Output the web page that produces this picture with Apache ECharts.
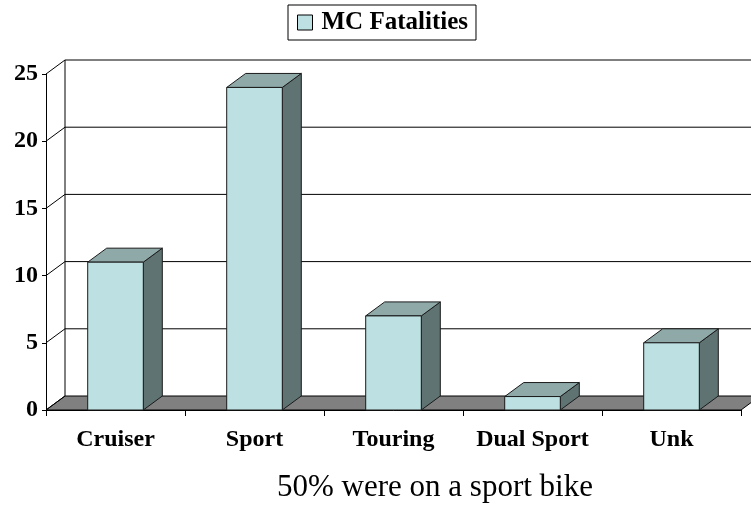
<!DOCTYPE html>
<html>
<head>
<meta charset="utf-8">
<script src="https://cdn.jsdelivr.net/npm/echarts@6/dist/echarts.min.js"></script>
<style>
  html, body { margin: 0; padding: 0; background: #fff; }
  #chart { width: 751px; height: 508px; }
</style>
</head>
<body>
<div id="chart"></div>
<script>
// chart data
var categories = ['Cruiser', 'Sport', 'Touring', 'Dual Sport', 'Unk'];
var fatalities = [11, 24, 7, 1, 5];
var yTicks = [0, 5, 10, 15, 20, 25];

// fake 3d depth (pixels)
var DX = 19, DY = -14;
var serif = '"Liberation Serif", "DejaVu Serif", serif';

var myChart = echarts.init(document.getElementById('chart'));

function renderFrame(params, api) {
  var band = api.size([1, 0])[0];
  var left = api.coord([0, 0])[0] - band / 2;
  var right = api.coord([categories.length - 1, 0])[0] + band / 2;
  var y0 = api.coord([0, 0])[1];
  var yTop = api.coord([0, yTicks[yTicks.length - 1]])[1];
  var W = api.getWidth();
  var children = [];
  // floor
  children.push({
    type: 'polygon',
    shape: { points: [[left, y0], [right, y0], [right + DX, y0 + DY], [left + DX, y0 + DY]] },
    style: { fill: '#808080', stroke: '#000', lineWidth: 1 }
  });
  yTicks.forEach(function (t) {
    var y = api.coord([0, t])[1];
    // side wall line
    children.push({
      type: 'line',
      shape: { x1: left, y1: y, x2: left + DX, y2: y + DY },
      style: { stroke: '#000', lineWidth: 1 }
    });
    if (t > 0) {
      children.push({
        type: 'line',
        shape: { x1: left + DX, y1: y + DY, x2: W, y2: y + DY },
        style: { stroke: '#000', lineWidth: 1 }
      });
    }
  });
  // back wall corner
  children.push({
    type: 'line',
    shape: { x1: left + DX, y1: y0 + DY, x2: left + DX, y2: yTop + DY },
    style: { stroke: '#000', lineWidth: 1 }
  });
  return { type: 'group', children: children };
}

function renderBar(params, api) {
  var i = api.value(0);
  var v = api.value(1);
  var base = api.coord([i, 0]);
  var top = api.coord([i, v]);
  var band = api.size([1, 0])[0];
  var w = band * 0.4;
  var x0 = base[0] - w / 2, x1 = base[0] + w / 2;
  var yb = base[1], yt = top[1];
  var edge = { stroke: '#1a1a1a', lineWidth: 1 };
  return {
    type: 'group',
    children: [
      {
        type: 'polygon',
        shape: { points: [[x1, yt], [x1, yb], [x1 + DX, yb + DY], [x1 + DX, yt + DY]] },
        style: Object.assign({ fill: '#5f7373' }, edge)
      },
      {
        type: 'polygon',
        shape: { points: [[x0, yt], [x1, yt], [x1 + DX, yt + DY], [x0 + DX, yt + DY]] },
        style: Object.assign({ fill: '#8fa9a9' }, edge)
      },
      {
        type: 'rect',
        shape: { x: x0, y: yt, width: w, height: yb - yt },
        style: Object.assign({ fill: '#bde0e2' }, edge)
      }
    ]
  };
}

var option = {
  animation: false,
  backgroundColor: '#fff',
  title: {
    text: '50% were on a sport bike',
    left: 272,
    top: 467,
    textStyle: { fontFamily: serif, fontWeight: 'normal', fontSize: 31, color: '#000' }
  },
  legend: {
    data: ['MC Fatalities'],
    left: 288,
    top: 5,
    padding: [5, 8, 5, 9],
    borderColor: '#000',
    borderWidth: 1,
    backgroundColor: '#fff',
    icon: 'rect',
    itemWidth: 15,
    itemHeight: 15,
    itemStyle: { color: '#bde0e2', borderColor: '#000', borderWidth: 1 },
    textStyle: { fontFamily: serif, fontWeight: 'bold', fontSize: 25, color: '#000', padding: [0, 0, 0, 4] }
  },
  grid: { left: 46, right: 10, top: 74, bottom: 98 },
  xAxis: {
    type: 'category',
    data: categories,
    axisLine: { show: true, lineStyle: { color: '#000' } },
    axisTick: { show: true, length: 6, lineStyle: { color: '#000' } },
    axisLabel: { interval: 0, margin: 18, fontFamily: serif, fontWeight: 'bold', fontSize: 24, color: '#000' },
    splitLine: { show: false }
  },
  yAxis: {
    type: 'value',
    min: 0,
    max: 25,
    interval: 5,
    axisLine: { show: true, lineStyle: { color: '#000' } },
    axisTick: { show: true, length: 4, lineStyle: { color: '#000' } },
    axisLabel: { margin: 8, fontFamily: serif, fontWeight: 'bold', fontSize: 24, color: '#000' },
    splitLine: { show: false }
  },
  series: [
    {
      name: 'frame',
      type: 'custom',
      silent: true,
      clip: false,
      z: 1,
      renderItem: renderFrame,
      data: [[0, 0]]
    },
    {
      name: 'MC Fatalities',
      type: 'custom',
      clip: false,
      z: 3,
      itemStyle: { color: '#bde0e2' },
      renderItem: renderBar,
      encode: { x: 0, y: 1 },
      data: fatalities.map(function (v, i) { return [i, v]; })
    }
  ]
};

myChart.setOption(option, true);
</script>
</body>
</html>
